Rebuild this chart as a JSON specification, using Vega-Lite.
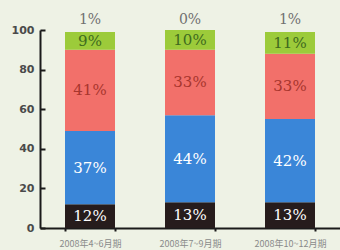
{
  "$schema": "https://vega.github.io/schema/vega-lite/v6.json",
  "width": 300,
  "height": 198,
  "autosize": "none",
  "padding": {"left": 40, "top": 30, "right": 0, "bottom": 22},
  "background": "#eef2e5",
  "config": {
    "view": {"stroke": null},
    "axis": {"ticks": true, "tickColor": "#1a1a1a", "tickWidth": 2, "domainColor": "#1a1a1a", "domainWidth": 2, "grid": false, "title": null},
    "axisY": {
      "values": [0, 20, 40, 60, 80, 100],
      "labelOverlap": false,
      "labelFlush": false,
      "labelFont": "DejaVu Sans",
      "labelFontSize": 11,
      "labelFontWeight": "bold",
      "labelColor": "#4a4a4a",
      "labelPadding": 11,
      "tickSize": -5
    }
  },
  "data": {
    "values": [
      {"period": "2008年4~6月期", "cat": "a", "v": 12},
      {"period": "2008年4~6月期", "cat": "b", "v": 37},
      {"period": "2008年4~6月期", "cat": "c", "v": 41},
      {"period": "2008年4~6月期", "cat": "d", "v": 9},
      {"period": "2008年4~6月期", "cat": "e", "v": 1},
      {"period": "2008年7~9月期", "cat": "a", "v": 13},
      {"period": "2008年7~9月期", "cat": "b", "v": 44},
      {"period": "2008年7~9月期", "cat": "c", "v": 33},
      {"period": "2008年7~9月期", "cat": "d", "v": 10},
      {"period": "2008年7~9月期", "cat": "e", "v": 0},
      {"period": "2008年10~12月期", "cat": "a", "v": 13},
      {"period": "2008年10~12月期", "cat": "b", "v": 42},
      {"period": "2008年10~12月期", "cat": "c", "v": 33},
      {"period": "2008年10~12月期", "cat": "d", "v": 11},
      {"period": "2008年10~12月期", "cat": "e", "v": 1}
    ]
  },
  "transform": [
    {"stack": "v", "groupby": ["period"], "sort": [{"field": "cat", "order": "ascending"}], "as": ["y0", "y1"]},
    {"calculate": "datum.cat === 'e' ? 100 : (datum.y0 + datum.y1) / 2", "as": "ym"},
    {"calculate": "datum.v + '%'", "as": "lab"}
  ],
  "encoding": {
    "x": {
      "field": "period",
      "type": "nominal",
      "sort": null,
      "scale": {"paddingInner": 0.5, "paddingOuter": 0.25},
      "axis": {
        "labelAngle": 0,
        "labelFont": "Noto Sans CJK JP",
        "labelFontSize": 9,
        "labelColor": "#8a8a8a",
        "labelPadding": 8,
        "tickBand": "extent",
        "tickSize": 3
      }
    }
  },
  "layer": [
    {
      "mark": {"type": "bar"},
      "encoding": {
        "y": {
          "field": "y0",
          "type": "quantitative",
          "scale": {"domain": [0, 100], "nice": false}
        },
        "y2": {"field": "y1"},
        "color": {
          "field": "cat",
          "type": "nominal",
          "legend": null,
          "scale": {
            "domain": ["a", "b", "c", "d", "e"],
            "range": ["#261c1c", "#3a86d8", "#f2706a", "#9ccb3a", "rgba(0,0,0,0)"]
          }
        }
      }
    },
    {
      "mark": {"type": "text", "font": "DejaVu Serif", "fontSize": 15},
      "transform": [{"filter": "datum.cat !== 'e'"}],
      "encoding": {
        "y": {"field": "ym", "type": "quantitative"},
        "text": {"field": "lab"},
        "color": {
          "field": "cat",
          "type": "nominal",
          "legend": null,
          "scale": {
            "domain": ["a", "b", "c", "d"],
            "range": ["#ffffff", "#ffffff", "#a8362e", "#3e6a1e"]
          }
        }
      }
    },
    {
      "mark": {"type": "text", "font": "DejaVu Serif", "fontSize": 14, "color": "#707070", "dy": -10},
      "transform": [{"filter": "datum.cat === 'e'"}],
      "encoding": {
        "y": {"field": "ym", "type": "quantitative"},
        "text": {"field": "lab"}
      }
    }
  ],
  "resolve": {"scale": {"color": "independent"}}
}
